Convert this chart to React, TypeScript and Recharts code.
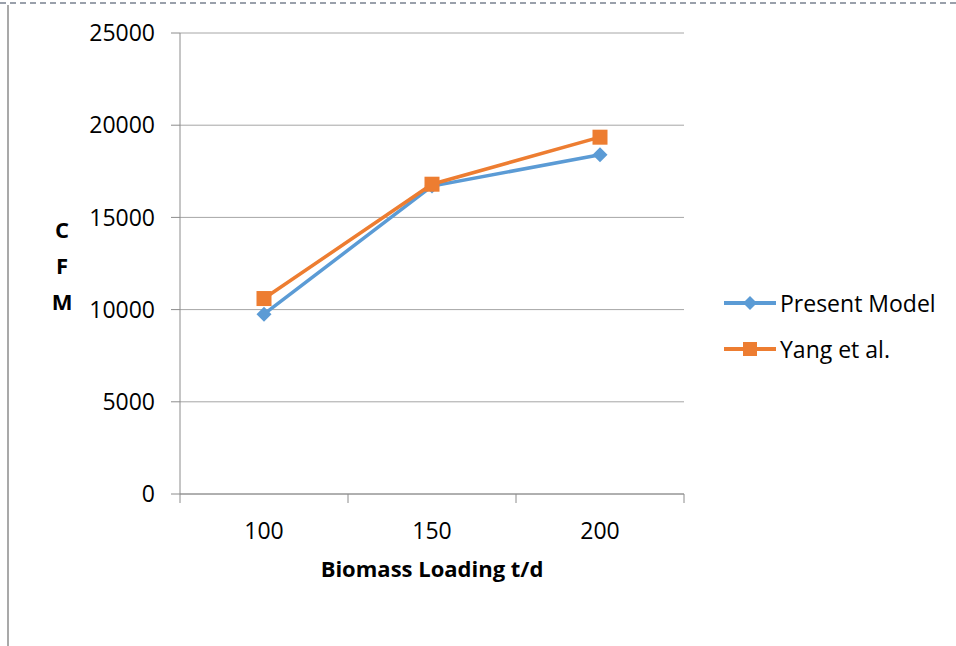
import React from 'react';
import { LineChart, Line, XAxis, YAxis, CartesianGrid, Label } from 'recharts';

const loading = [100, 150, 200];
const categoryEdges = [75, 125, 175, 225];
const presentModel = [9750, 16700, 18400];
const yangEtAl = [10600, 16800, 19350];
const yTicks = [0, 5000, 10000, 15000, 20000, 25000];

const seriesInfo = [
  { key: 'present', name: 'Present Model', color: '#5b9bd5', shape: 'diamond' },
  { key: 'yang', name: 'Yang et al.', color: '#ed7d31', shape: 'square' },
];

const data = loading.map((x, i) => ({ x, present: presentModel[i], yang: yangEtAl[i] }));

const FONT = '"Open Sans", Calibri, sans-serif';
const AXIS = '#8c8c8c';
const GRID = '#a6a6a6';

const Diamond = (props: any) => {
  const { cx, cy, fill, r = 7 } = props;
  if (cx == null || cy == null) return null;
  return <path d={`M${cx},${cy - r} L${cx + r},${cy} L${cx},${cy + r} L${cx - r},${cy} Z`} fill={fill} />;
};

const Square = (props: any) => {
  const { cx, cy, fill, r = 7 } = props;
  if (cx == null || cy == null) return null;
  return <rect x={cx - r} y={cy - r} width={r * 2} height={r * 2} fill={fill} />;
};

// category-style x axis: labels at centers, tick marks at the edges between categories
const XTick = (props: any) => {
  const { x, y, payload } = props;
  const v = payload.value;
  if (categoryEdges.includes(v)) {
    return <line x1={x} x2={x} y1={y} y2={y + 9} stroke={AXIS} strokeWidth={1} />;
  }
  return (
    <text x={x} y={y + 45} textAnchor="middle" fontFamily={FONT} fontSize={23} fill="#000">
      {v}
    </text>
  );
};

const CfmLabel = (props: any) => {
  const { viewBox } = props;
  const cy = viewBox.y + viewBox.height / 2;
  const letters = ['C', 'F', 'M'];
  return (
    <g>
      {letters.map((l, i) => (
        <text key={l} x={62} y={cy - 26 + i * 36} textAnchor="middle" fontFamily={FONT} fontWeight="bold" fontSize={22} fill="#000">
          {l}
        </text>
      ))}
    </g>
  );
};

const LegendBox = () => (
  <div style={{ position: 'absolute', left: 722, top: 280, fontFamily: FONT, fontSize: 23, color: '#000' }}>
    {seriesInfo.map((s) => (
      <div key={s.key} style={{ display: 'flex', alignItems: 'center', height: 46 }}>
        <svg width={58} height={20}>
          <line x1={2} x2={54} y1={10} y2={10} stroke={s.color} strokeWidth={4} />
          {s.shape === 'diamond' ? (
            <Diamond cx={28} cy={10} r={7} fill={s.color} />
          ) : (
            <Square cx={28} cy={10} r={7} fill={s.color} />
          )}
        </svg>
        <span>{s.name}</span>
      </div>
    ))}
  </div>
);

export default function App() {
  return (
    <div style={{ position: 'fixed', left: 0, top: 0, width: 956, height: 646, background: '#fff' }}>
      <div style={{ position: 'absolute', left: 0, top: 2, width: 956, borderTop: '2px dashed #9aa0ab' }} />
      <div style={{ position: 'absolute', left: 7, top: 5, width: 2, height: 641, background: '#a9a9a9' }} />
      <LineChart width={956} height={646} data={data} margin={{ top: 33, right: 272, bottom: 0, left: 0 }}>
        <CartesianGrid horizontal vertical={false} stroke={GRID} strokeWidth={1} />
        <XAxis
          dataKey="x"
          type="number"
          domain={[75, 225]}
          ticks={[...categoryEdges, ...loading]}
          interval={0}
          tick={<XTick />}
          tickLine={false}
          tickSize={0}
          tickMargin={0}
          axisLine={{ stroke: AXIS }}
          height={152}
        >
          <Label
            value="Biomass Loading t/d"
            position="insideBottom"
            offset={69}
            style={{ fontFamily: FONT, fontWeight: 'bold', fontSize: 22, fill: '#000' }}
          />
        </XAxis>
        <YAxis
          domain={[0, 25000]}
          ticks={yTicks}
          interval={0}
          width={180}
          tickSize={9}
          tickMargin={16}
          tickLine={{ stroke: AXIS }}
          axisLine={{ stroke: AXIS }}
          tick={{ fontFamily: FONT, fontSize: 23, fill: '#000' }}
        >
          <Label content={<CfmLabel />} />
        </YAxis>
        <Line
          dataKey="present"
          name="Present Model"
          stroke="#5b9bd5"
          strokeWidth={3.5}
          dot={<Diamond r={7.5} fill="#5b9bd5" />}
          activeDot={false}
          isAnimationActive={false}
        />
        <Line
          dataKey="yang"
          name="Yang et al."
          stroke="#ed7d31"
          strokeWidth={3.5}
          dot={<Square r={7.5} fill="#ed7d31" />}
          activeDot={false}
          isAnimationActive={false}
        />
      </LineChart>
      <LegendBox />
    </div>
  );
}
